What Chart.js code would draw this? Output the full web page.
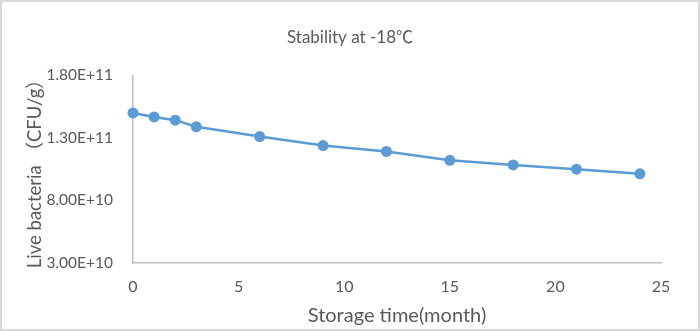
<!DOCTYPE html>
<html>
<head>
<meta charset="utf-8">
<script src="https://cdn.jsdelivr.net/npm/chart.js@4"></script>
<style>
    html, body { margin: 0; padding: 0; background: #fff; }
    #wrap { width: 700px; height: 331px; position: relative; }
</style>
</head>
<body>
<div id="wrap"><canvas id="stabilityChart"></canvas></div>
<script>
const months = [0, 1, 2, 3, 6, 9, 12, 15, 18, 21, 24];
const liveBacteria = [1.50e11, 1.468e11, 1.442e11, 1.389e11, 1.311e11, 1.239e11, 1.192e11, 1.121e11, 1.084e11, 1.050e11, 1.013e11];
const yTicks = [3.0e10, 8.0e10, 1.3e11, 1.8e11];
const xTicks = [0, 5, 10, 15, 20, 25];

const FONT = "Lato, 'Noto Sans CJK SC', sans-serif";
const TEXT = '#595959';

function formatSci(v) {
    return v.toExponential(2).toUpperCase();
}

const frame = {
    id: 'frame',
    afterDraw(chart) {
        const ctx = chart.ctx;
        ctx.save();
        ctx.strokeStyle = '#d9d9d9';
        ctx.lineWidth = 2;
        ctx.strokeRect(1, 1, chart.width - 2, chart.height - 2);
        ctx.restore();
    }
};

document.addEventListener('DOMContentLoaded', () => {
    const ctx = document.getElementById('stabilityChart').getContext('2d');
    new Chart(ctx, {
        type: 'scatter',
        data: {
            datasets: [{
                data: months.map((m, i) => ({ x: m, y: liveBacteria[i] })),
                showLine: true,
                borderColor: '#5b9bd5',
                backgroundColor: '#5b9bd5',
                borderWidth: 2.5,
                pointRadius: 5.5,
                pointBorderWidth: 0,
                pointBackgroundColor: '#5b9bd5',
                tension: 0,
                clip: false
            }]
        },
        options: {
            responsive: true,
            maintainAspectRatio: false,
            animation: false,
            layout: { padding: 0 },
            plugins: {
                legend: { display: false },
                tooltip: { enabled: false },
                title: {
                    display: true,
                    text: 'Stability at -18℃',
                    color: TEXT,
                    font: { family: FONT, size: 17, weight: 'normal' },
                    padding: { top: 27, bottom: 28 }
                }
            },
            scales: {
                x: {
                    type: 'linear',
                    min: 0,
                    max: 25,
                    afterBuildTicks: s => { s.ticks = xTicks.map(v => ({ value: v })); },
                    afterFit: s => { s.height = 68; },
                    grid: { display: false, drawTicks: false },
                    border: { display: true, color: '#bfbfbf', width: 1.5 },
                    ticks: { color: TEXT, padding: 14, font: { family: FONT, size: 16 } },
                    title: {
                        display: true,
                        text: 'Storage time(month)',
                        color: TEXT,
                        font: { family: FONT, size: 20 },
                        padding: { top: 0, bottom: 3 }
                    }
                },
                y: {
                    type: 'linear',
                    min: 3e10,
                    max: 1.8e11,
                    afterBuildTicks: s => { s.ticks = yTicks.map(v => ({ value: v })); },
                    afterFit: s => { s.width = 133; },
                    grid: { display: false, drawTicks: false },
                    border: { display: true, color: '#bfbfbf', width: 1.5 },
                    ticks: {
                        color: TEXT,
                        padding: 20,
                        font: { family: FONT, size: 15.5 },
                        callback: v => formatSci(v)
                    },
                    title: {
                        display: true,
                        text: 'Live bacteria （CFU/g）',
                        color: TEXT,
                        font: { family: FONT, size: 18.5 },
                        padding: { top: 24, bottom: 0 }
                    }
                },
                yRight: {
                    type: 'linear',
                    position: 'right',
                    display: true,
                    afterFit: s => { s.width = 39; },
                    grid: { display: false, drawTicks: false },
                    border: { display: false },
                    ticks: { display: false }
                }
            }
        },
        plugins: [frame]
    });
});
</script>
</body>
</html>
